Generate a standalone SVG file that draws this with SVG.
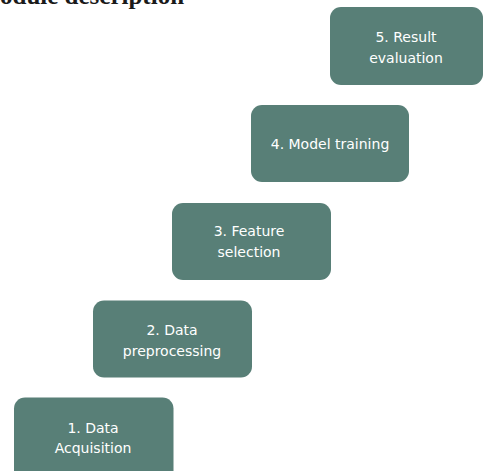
<svg xmlns="http://www.w3.org/2000/svg" width="483" height="471" viewBox="0 0 483 471">
  <style>
    .box { fill: #587f77; }
    .lbl { fill: #ffffff; font-family: "DejaVu Sans", "Liberation Sans", sans-serif; font-size: 14px; text-anchor: middle; }
    .title { fill: #1a1a1a; font-family: "Liberation Serif", serif; font-weight: bold; font-size: 25px; }
  </style>
  <rect width="483" height="471" fill="#ffffff"/>
  <text class="title" x="0" y="4">odule description</text>
  <g id="connectors"></g>
  <g id="node1">
    <rect class="box" x="14" y="397.5" width="159.5" height="90" rx="11"/>
    <text class="lbl" x="93" y="432.5">1. Data</text>
    <text class="lbl" x="93" y="453">Acquisition</text>
  </g>
  <g id="node2">
    <rect class="box" x="93" y="300.5" width="159" height="77" rx="11"/>
    <text class="lbl" x="172" y="334.5">2. Data</text>
    <text class="lbl" x="172" y="355.5">preprocessing</text>
  </g>
  <g id="node3">
    <rect class="box" x="172" y="203" width="159" height="77" rx="11"/>
    <text class="lbl" x="249" y="236">3. Feature</text>
    <text class="lbl" x="249" y="257">selection</text>
  </g>
  <g id="node4">
    <rect class="box" x="251" y="105" width="158" height="77" rx="11"/>
    <text class="lbl" x="330" y="149">4. Model training</text>
  </g>
  <g id="node5">
    <rect class="box" x="330" y="7" width="153" height="78" rx="11"/>
    <text class="lbl" x="406" y="42">5. Result</text>
    <text class="lbl" x="406" y="63">evaluation</text>
  </g>
</svg>
